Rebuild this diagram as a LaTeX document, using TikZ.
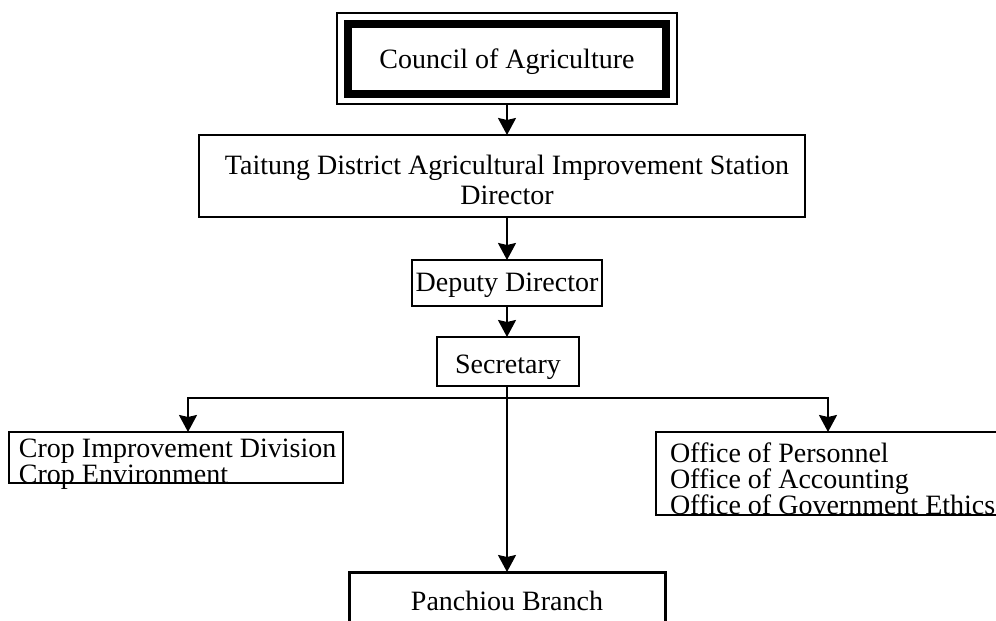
\documentclass[tikz,border=0pt]{standalone}
\usepackage{fontspec}
\setmainfont{Liberation Serif}
\usetikzlibrary{arrows.meta}
\begin{document}
\begin{tikzpicture}[x=1pt,y=-1pt,
  every node/.style={inner sep=0pt, outer sep=0pt, font=\fontsize{28}{30}\selectfont},
  box/.style={draw, line width=1.6pt, rectangle},
  arr/.style={line width=2pt, -{Stealth[length=17pt,width=18pt,inset=2pt]}}]
\useasboundingbox (0,0) rectangle (996,621);
\clip (0,0) rectangle (996,621);
\fill[white] (0,0) rectangle (996,621);
% Council of Agriculture
\node[draw, line width=2pt, minimum width=340pt, minimum height=91pt] (councilouter) at (507,58.5) {};
\node[draw, line width=8pt, minimum width=318pt, minimum height=70pt] (council) at (507,58.5) {};
\node (counciltext) at (507,61.5) {Council of Agriculture};
% Taitung
\node[box, minimum width=606pt, minimum height=82pt] (taitung) at (502,176) {};
\node[align=center] (taitungtext) at (507,180) {Taitung District Agricultural Improvement Station\\Director};
% Deputy
\node[box, minimum width=190pt, minimum height=46pt] (deputy) at (507,283) {};
\node (deputytext) at (507,285) {Deputy Director};
% Secretary
\node[box, minimum width=142pt, minimum height=49pt] (secretary) at (508,361.5) {};
\node (secretarytext) at (508,367) {Secretary};
% Left box
\node[box, minimum width=334pt, minimum height=51pt, anchor=north west] (crop) at (9,432) {};
\node[anchor=west, align=left, font=\fontsize{28}{25.5}\selectfont] (croptext) at (19,464)
  {Crop Improvement Division\\Crop Environment};
% Right box
\node[box, minimum width=344pt, minimum height=83pt, anchor=north west] (office) at (656,432) {};
\node[anchor=west, align=left, font=\fontsize{28}{25.5}\selectfont] (officetext) at (670,479)
  {Office of Personnel\\Office of Accounting\\Office of Government Ethics};
% Panchiou
\node[draw, line width=3pt, minimum width=316pt, minimum height=80pt, anchor=north] (panchiou) at (507,572) {};
\node (panchioutext) at (507,601) {Panchiou Branch};
% connectors
\draw[arr] (councilouter.south) -- (taitung.north -| councilouter.south);
\draw[arr] (taitung.south -| deputy.north) -- (deputy.north);
\draw[arr] (deputy.south -| secretary.north) ++(-1,0) -- ([xshift=-1pt]secretary.north);
\coordinate (bus) at (507,398);
\coordinate (lt) at (188,398);
\coordinate (rt) at (828,398);
\draw[arr] (secretary.south -| bus) -- (panchiou.north);
\draw[arr] (bus) -- (lt) -- (lt |- crop.north);
\draw[arr] (bus) -- (rt) -- (rt |- office.north);
\end{tikzpicture}
\end{document}
